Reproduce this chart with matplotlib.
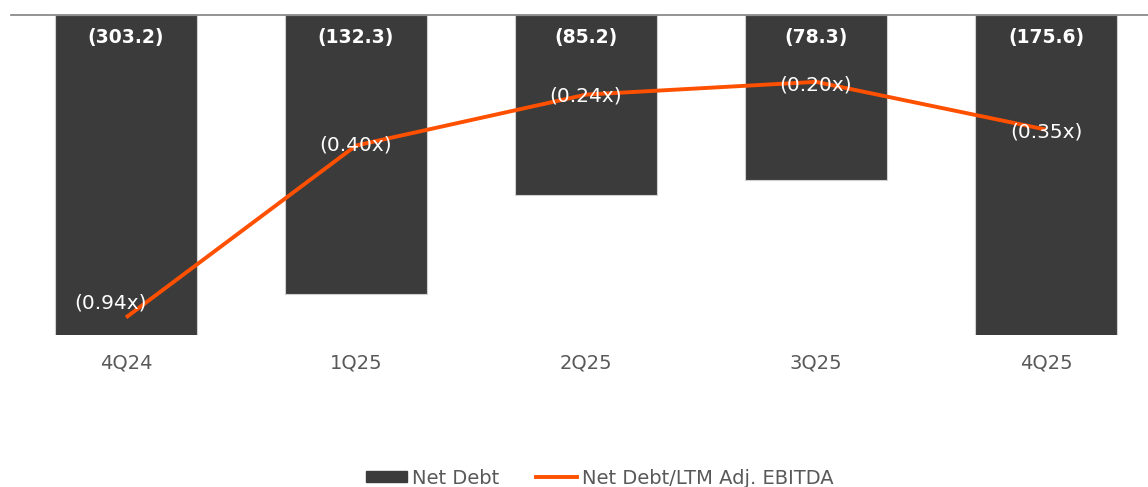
import matplotlib
matplotlib.use("Agg")
import matplotlib.pyplot as plt
from matplotlib.patches import Patch
from matplotlib.lines import Line2D
import numpy as np

categories = ["4Q24", "1Q25", "2Q25", "3Q25", "4Q25"]
net_debt = [-303.2, -132.3, -85.2, -78.3, -175.6]
ratio = [0.94, 0.40, 0.24, 0.20, 0.35]
bar_labels = ["(303.2)", "(132.3)", "(85.2)", "(78.3)", "(175.6)"]
ratio_labels = ["(0.94x)", "(0.40x)", "(0.24x)", "(0.20x)", "(0.35x)"]

BAR_C = "#3b3b3b"
LINE_C = "#ff5000"
TXT_C = "#595959"

plt.rcParams['font.family'] = ['DejaVu Sans']

fig = plt.figure(figsize=(11.48, 4.87), dpi=100)
W, H = 1148, 487
ax = fig.add_axes([11 / W, 1 - 335 / H, 1150 / W, 320 / H])
x = np.arange(len(categories))

ax.bar(x, net_debt, width=0.62, color=BAR_C, edgecolor="#d0d0d0", linewidth=0.8, zorder=2)
ax.set_ylim(-151.6, 0)
ax.set_xlim(-0.5, len(categories) - 0.5)
ax.set_xticks(x)
ax.set_xticklabels(categories, fontsize=14, color=TXT_C)
ax.tick_params(axis='x', length=0, pad=13)
ax.set_yticks([])
for s in ["left", "right", "bottom"]:
    ax.spines[s].set_visible(False)
ax.spines["top"].set_color("#808080")
ax.spines["top"].set_linewidth(1.2)

for xi, lab in zip(x, bar_labels):
    ax.annotate(lab, (xi, 0), xytext=(0, -22), textcoords="offset pixels",
                ha="center", va="center", fontsize=13.5, fontweight="bold",
                color="white", zorder=5)

ax2 = ax.twinx()
ax2.set_ylim(0.995, -0.01)
ax2.set_yticks([])
for s in ax2.spines.values():
    s.set_visible(False)

ax2.plot(x, ratio, color=LINE_C, linewidth=2.8, solid_capstyle="butt",
         solid_joinstyle="round", zorder=3)

offsets = [(-15, 14), (0, 1), (0, -1), (0, -3), (0, -2)]
for xi, yi, lab, off in zip(x, ratio, ratio_labels, offsets):
    ax2.annotate(lab, (xi, yi), xytext=off, textcoords="offset pixels",
                 ha="center", va="center", fontsize=14.5, color="white", zorder=6)

handles = [Patch(facecolor=BAR_C, edgecolor=BAR_C),
           Line2D([0], [0], color=LINE_C, linewidth=2.8)]
leg = fig.legend(handles, ["Net Debt", "Net Debt/LTM Adj. EBITDA"], loc="center",
                 bbox_to_anchor=(600 / W, 1 - 478 / H), ncol=2, frameon=False,
                 fontsize=14, handlelength=2.1, handleheight=0.5,
                 handletextpad=0.25, columnspacing=1.9)
for t in leg.get_texts():
    t.set_color(TXT_C)

fig.savefig("out.png", dpi=100)
